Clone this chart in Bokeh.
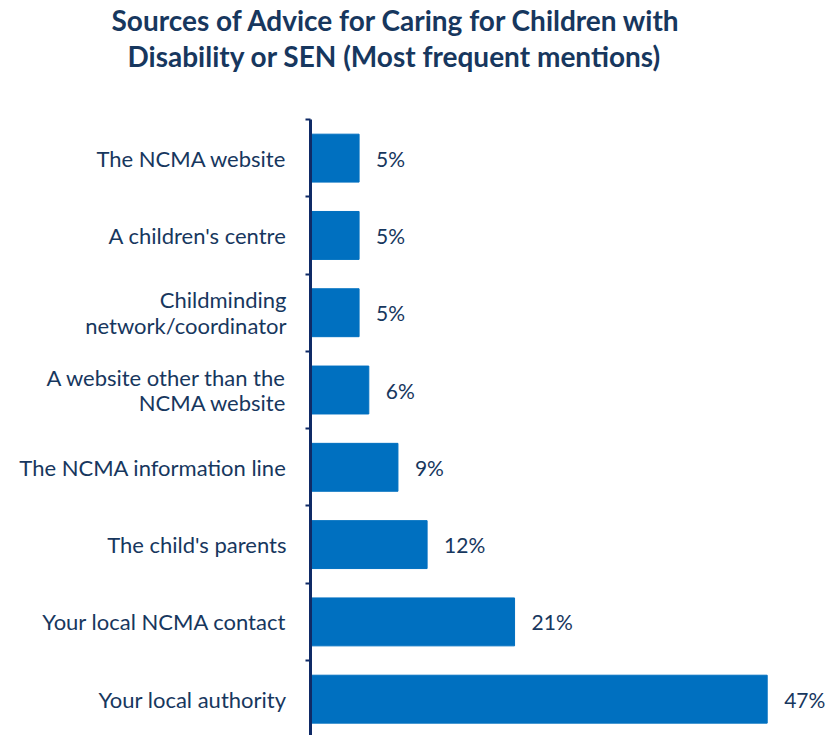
from bokeh.plotting import figure
from bokeh.models import ColumnDataSource, FixedTicker, LabelSet, Title
from bokeh.core.properties import value
from bokeh.embed import file_html
from bokeh.resources import INLINE

categories = ["Your local authority", "Your local NCMA contact", "The child's parents",
              "The NCMA information line", "A website other than the\nNCMA website",
              "Childminding\nnetwork/coordinator", "A children's centre", "The NCMA website"]
values = [47, 21, 12, 9, 6, 5, 5, 5]
value_labels = [f"{v}%" for v in values]
positions = list(range(len(categories)))
title_lines = ["Sources of Advice for Caring for Children with",
               "Disability or SEN (Most frequent mentions)"]

NAVY = "#17375e"
AXIS = "#0f2a66"
BAR = "#0070c0"
FONT = "Lato"

src = ColumnDataSource(dict(y=positions, v=values, lab=value_labels))

p = figure(width=825, height=735, output_backend="svg", toolbar_location=None,
           x_range=(0, 53.0), y_range=(-0.47, 7.5), title=None,
           min_border_left=310, min_border_right=0, min_border_bottom=0, min_border_top=118)

p.hbar(y="y", right="v", left=0, height=0.62, source=src, color=BAR)

labels = LabelSet(x="v", y="y", text="lab", source=src, x_offset=17, y_offset=0,
                  text_baseline="middle", text_font=value(FONT), text_font_size="21px",
                  text_color=NAVY)
p.add_layout(labels)

p.xaxis.visible = False
p.xgrid.visible = False
p.ygrid.visible = False
p.outline_line_color = None

ya = p.yaxis[0]
ya.ticker = FixedTicker(ticks=positions, minor_ticks=[i + 0.5 for i in positions])
ya.major_label_overrides = {i: c for i, c in enumerate(categories)}
ya.major_tick_line_color = None
ya.major_tick_out = 0
ya.major_tick_in = 0
ya.major_label_standoff = 19
ya.major_label_text_font = FONT
ya.major_label_text_font_size = "22px"
ya.major_label_text_color = NAVY
ya.major_label_text_line_height = 0.95
ya.axis_line_color = AXIS
ya.axis_line_width = 3
ya.minor_tick_line_color = AXIS
ya.minor_tick_line_width = 2
ya.minor_tick_out = 5
ya.minor_tick_in = 0

# spacer between the title and the chart
p.add_layout(Title(text=" ", text_font_size="1px", standoff=44), "above")
# title lines (second line added first: it sits closer to the chart)
for line, off in zip(reversed(title_lines), [-183, -199]):
    p.add_layout(Title(text=line, align="left", offset=off, standoff=0,
                       text_font=FONT, text_font_size="28px", text_font_style="bold",
                       text_color=NAVY), "above")

open("out.html", "w").write(file_html(p, INLINE))
